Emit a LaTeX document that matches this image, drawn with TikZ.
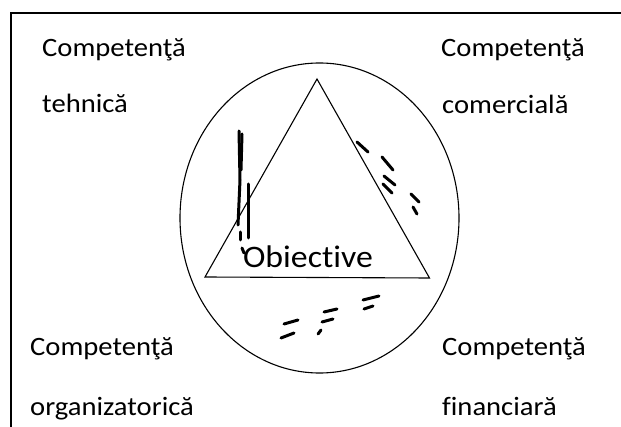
\documentclass[tikz,border=0pt]{standalone}
\usepackage{fontspec}
\setmainfont{Carlito}[FakeStretch=1.08, Ligatures=NoCommon]
\begin{document}
\begin{tikzpicture}[x=1pt, y=-1pt,
    label/.style={anchor=base west, inner sep=0pt, font=\fontsize{26.5}{31}\selectfont},
    goal/.style={anchor=base, inner sep=0pt, font=\fontsize{31.3}{37}\selectfont},
    scribble/.style={line width=3pt, line cap=round}]
            \useasboundingbox (0, 0) rectangle (621, 427);

            % Frame
            \draw[line width=1.8pt] (11, 427) -- (11, 13) -- (621, 13);

            % Circle and triangle
            \draw[line width=1.1pt] (319.5, 218) ellipse [x radius=139.5pt, y radius=155pt];
            \coordinate (top) at (317, 79);
            \coordinate (left) at (205, 277);
            \coordinate (right) at (429.5, 278);
            \draw[line width=1.1pt] (top) -- (right) -- (left) -- cycle;
            \node[goal] (obj) at (308, 268) {Obiective};

            % Labels
            \node[label] (tech1) at (42, 57) {Competenţă};
            \node[label] (tech2) at (42, 113) {tehnică};
            \node[label] (com1) at (441, 57) {Competenţă};
            \node[label] (com2) at (442, 114) {comercială};
            \node[label] (org1) at (30, 356) {Competenţă};
            \node[label] (org2) at (30, 415) {organizatorică};
            \node[label] (fin1) at (442, 356) {Competenţă};
            \node[label] (fin2) at (442, 415) {financiară};

            % Pen marks
            \draw[scribble] (239, 131) -- (240, 180) -- (238, 225);
            \draw[scribble] (242, 134) -- (241, 170);
            \draw[scribble] (248, 184) -- (248, 238);
            \draw[scribble] (240, 232) -- (240, 240);
            \draw[scribble] (242, 248) -- (244, 253);
            \draw[scribble] (357, 142) -- (368, 152);
            \draw[scribble] (382, 157) -- (393, 170);
            \draw[scribble] (384, 176) -- (395, 185);
            \draw[scribble] (383, 184) -- (392, 193);
            \draw[scribble] (411, 194) -- (419, 202);
            \draw[scribble] (413, 207) -- (417, 214);
            \draw[scribble] (284, 324) -- (298, 320);
            \draw[scribble] (281, 338) -- (294, 333);
            \draw[scribble] (324, 312) -- (337, 309);
            \draw[scribble] (322, 322) -- (333, 319);
            \draw[scribble] (318, 334) -- (321, 330);
            \draw[scribble] (363, 300) -- (379, 296);
            \draw[scribble] (364, 309) -- (373, 306);

\end{tikzpicture}
\end{document}
